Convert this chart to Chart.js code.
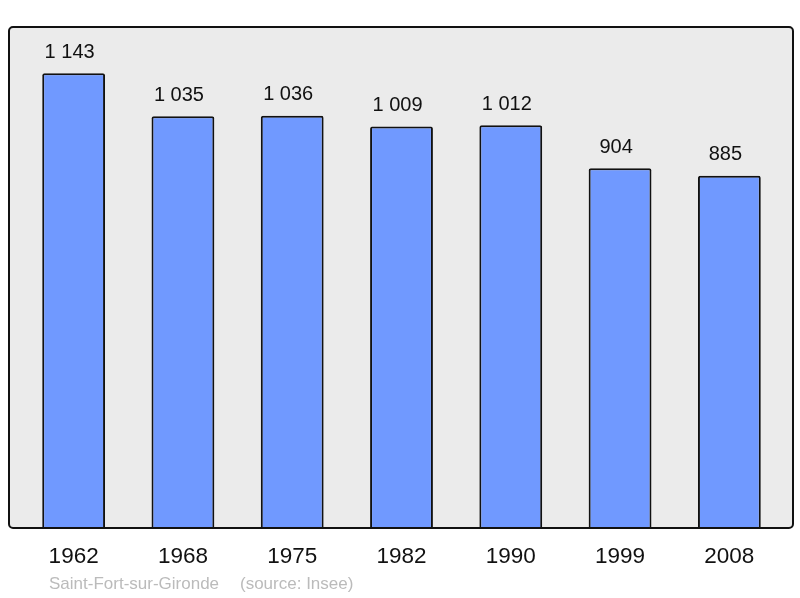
<!DOCTYPE html>
<html>
<head>
<meta charset="utf-8">
<script src="https://cdn.jsdelivr.net/npm/chart.js@4/dist/chart.umd.min.js"></script>
<style>
  html, body { margin: 0; padding: 0; background: #fff; }
  #wrap { width: 800px; height: 598px; position: relative; }
</style>
</head>
<body>
<div id="wrap"><canvas id="popChart"></canvas></div>
<script>
// population data
const years = ['1962', '1968', '1975', '1982', '1990', '1999', '2008'];
const population = [1143, 1035, 1036, 1009, 1012, 904, 885];
const valueLabels = ['1 143', '1 035', '1 036', '1 009', '1 012', '904', '885'];
const footerPlace = 'Saint-Fort-sur-Gironde';
const footerSource = '(source: Insee)';

// frame box spans a bit wider than the bar area
function frameRect(a) {
    const x = a.left - 10, y = a.top;
    return [x, y, (a.right + 9) - x, a.bottom - y];
}

const framePlugin = {
    id: 'frame',
    beforeDatasetsDraw(chart) {
        const ctx = chart.ctx;
        ctx.save();
        ctx.beginPath();
        ctx.roundRect(...frameRect(chart.chartArea), 4);
        ctx.fillStyle = '#ebebeb';
        ctx.fill();
        ctx.restore();
    },
    afterDatasetsDraw(chart) {
        const ctx = chart.ctx;
        const a = chart.chartArea;
        ctx.save();
        ctx.beginPath();
        ctx.roundRect(...frameRect(a), 4);
        ctx.strokeStyle = '#111';
        ctx.lineWidth = 2;
        ctx.stroke();

        // value labels and years
        const meta = chart.getDatasetMeta(0);
        const xs = chart.scales.x;
        ctx.textAlign = 'center';
        ctx.textBaseline = 'middle';
        ctx.fillStyle = '#111';
        ctx.font = '20px "Liberation Sans", Arial, sans-serif';
        meta.data.forEach((bar, i) => {
            ctx.fillText(valueLabels[i], bar.x - 4, bar.y - 21);
        });
        ctx.font = '22.5px "Liberation Sans", Arial, sans-serif';
        years.forEach((yr, i) => {
            ctx.fillText(yr, xs.getPixelForValue(i), a.bottom + 29);
        });
        ctx.textAlign = 'left';
        ctx.fillStyle = '#bbbbbb';
        ctx.font = '17px "Liberation Sans", Arial, sans-serif';
        ctx.fillText(footerPlace, 49, a.bottom + 56);
        ctx.fillText(footerSource, 240, a.bottom + 56);
        ctx.restore();
    }
};

new Chart(document.getElementById('popChart'), {
    type: 'bar',
    data: {
        labels: years,
        datasets: [{
            data: population,
            backgroundColor: '#7099ff',
            borderColor: '#111',
            borderWidth: 2,
            borderRadius: 2,
            borderSkipped: 'bottom',
            barPercentage: 0.575,
            categoryPercentage: 1
        }]
    },
    options: {
        responsive: true,
        maintainAspectRatio: false,
        animation: false,
        layout: { padding: { left: 19, right: 16, top: 27, bottom: 70 } },
        plugins: { legend: { display: false }, tooltip: { enabled: false } },
        scales: {
            x: { display: false },
            y: { display: false, min: 0, max: 1259 }
        }
    },
    plugins: [framePlugin]
});
</script>
</body>
</html>
